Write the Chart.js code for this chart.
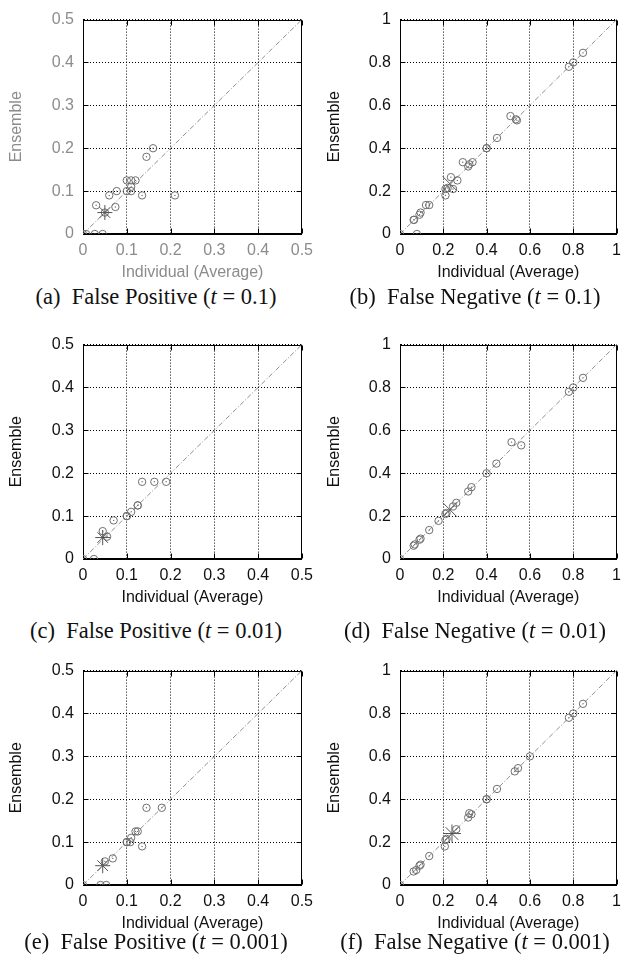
<!DOCTYPE html>
<html>
<head>
<meta charset="utf-8">
<script src="https://cdn.jsdelivr.net/npm/chart.js@4.4.1/dist/chart.umd.min.js"></script>
<style>
  html, body { margin: 0; padding: 0; background: #fff; }
  body { width: 628px; height: 969px; position: relative; overflow: hidden; }
  canvas { position: absolute; }
  .cap {
    position: absolute; width: 300px; text-align: center; white-space: nowrap;
    font-family: 'Liberation Serif', 'Times New Roman', serif; font-size: 22.5px; line-height: 24px; color: #111;
  }
</style>
</head>
<body>
<canvas id="fpA" width="320" height="283" style="left:0;top:1px"></canvas>
<canvas id="fnB" width="318" height="283" style="left:310px;top:1px"></canvas>
<canvas id="fpC" width="320" height="283" style="left:0;top:326px"></canvas>
<canvas id="fnD" width="318" height="283" style="left:310px;top:326px"></canvas>
<canvas id="fpE" width="320" height="283" style="left:0;top:652px"></canvas>
<canvas id="fnF" width="318" height="283" style="left:310px;top:652px"></canvas>

<div class="cap" style="left:6px;top:285px">(a)&nbsp; False Positive (<i>t</i> = 0.1)</div>
<div class="cap" style="left:325px;top:285px">(b)&nbsp; False Negative (<i>t</i> = 0.1)</div>
<div class="cap" style="left:6px;top:619px">(c)&nbsp; False Positive (<i>t</i> = 0.01)</div>
<div class="cap" style="left:325px;top:619px">(d)&nbsp; False Negative (<i>t</i> = 0.01)</div>
<div class="cap" style="left:6px;top:930px">(e)&nbsp; False Positive (<i>t</i> = 0.001)</div>
<div class="cap" style="left:325px;top:930px">(f)&nbsp; False Negative (<i>t</i> = 0.001)</div>

<script>
// tick labels
const fpTicks = ['0', '0.1', '0.2', '0.3', '0.4', '0.5'];
const fnTicks = ['0', '0.2', '0.4', '0.6', '0.8', '1'];

// (a) false positive, t = 0.1
const fpInd1 = [0, 0.007, 0.027, 0.045, 0.03, 0.074, 0.05, 0.06, 0.077, 0.1, 0.11, 0.11, 0.1, 0.11, 0.12, 0.135, 0.21, 0.145, 0.16];
const fpEns1 = [0, 0, 0, 0, 0.067, 0.063, 0.05, 0.09, 0.1, 0.1, 0.1, 0.11, 0.125, 0.125, 0.125, 0.09, 0.09, 0.18, 0.2];
// (c) false positive, t = 0.01
const fpInd2 = [0, 0.025, 0.045, 0.055, 0.07, 0.1, 0.1, 0.11, 0.125, 0.125, 0.135, 0.163, 0.19];
const fpEns2 = [0, 0, 0.065, 0.052, 0.09, 0.1, 0.1, 0.11, 0.125, 0.125, 0.18, 0.18, 0.18];
// (e) false positive, t = 0.001
const fpInd3 = [0, 0.04, 0.053, 0.05, 0.068, 0.1, 0.1, 0.108, 0.11, 0.12, 0.125, 0.135, 0.145, 0.18];
const fpEns3 = [0, 0, 0, 0.055, 0.062, 0.1, 0.1, 0.1, 0.11, 0.125, 0.125, 0.09, 0.18, 0.18];

// (b) false negative, t = 0.1
const fnInd1 = [0, 0.078, 0.063, 0.065, 0.09, 0.095, 0.12, 0.135, 0.21, 0.21, 0.22, 0.235, 0.245, 0.265, 0.29, 0.315, 0.32, 0.335, 0.4, 0.4, 0.448, 0.51, 0.535, 0.54, 0.78, 0.8, 0.845];
const fnEns1 = [0, 0, 0.066, 0.066, 0.09, 0.1, 0.135, 0.135, 0.18, 0.21, 0.215, 0.265, 0.21, 0.25, 0.335, 0.315, 0.325, 0.335, 0.4, 0.4, 0.448, 0.55, 0.535, 0.53, 0.78, 0.8, 0.845];
// (d) false negative, t = 0.01
const fnInd2 = [0, 0.063, 0.068, 0.09, 0.095, 0.135, 0.178, 0.21, 0.215, 0.245, 0.26, 0.315, 0.33, 0.4, 0.445, 0.515, 0.56, 0.78, 0.8, 0.845];
const fnEns2 = [0, 0.062, 0.068, 0.09, 0.095, 0.135, 0.178, 0.21, 0.215, 0.245, 0.262, 0.315, 0.335, 0.4, 0.445, 0.545, 0.53, 0.78, 0.8, 0.845];
// (f) false negative, t = 0.001
const fnInd3 = [0, 0.063, 0.075, 0.09, 0.095, 0.135, 0.207, 0.21, 0.215, 0.26, 0.315, 0.32, 0.33, 0.4, 0.4, 0.448, 0.53, 0.545, 0.6, 0.78, 0.8, 0.845];
const fnEns3 = [0, 0.063, 0.07, 0.09, 0.095, 0.135, 0.18, 0.21, 0.215, 0.26, 0.315, 0.335, 0.33, 0.4, 0.4, 0.448, 0.53, 0.545, 0.6, 0.78, 0.8, 0.845];

// averages (the big markers), one per panel
const fpAvgInd = [0.05, 0.045, 0.045];
const fpAvgEns = [0.05, 0.05, 0.045];
const fnAvgInd = [0.23, 0.23, 0.24];
const fnAvgEns = [0.235, 0.23, 0.24];

const pts = (xs, ys) => xs.map((x, i) => ({ x: x, y: ys[i] }));

// border box + inward ticks (gnuplot style)
const framePlugin = {
    id: 'frame',
    beforeDatasetsDraw(chart) {
        const { ctx, chartArea: a, scales } = chart;
        const L = Math.round(a.left) + 0.5, R = Math.round(a.right) - 0.5;
        const T = Math.round(a.top) + 0.5, B = Math.round(a.bottom) - 0.5;
        ctx.save();
        ctx.strokeStyle = '#000';
        ctx.lineWidth = 1;
        ctx.beginPath();
        scales.x.ticks.forEach(t => {
            const p = Math.round(scales.x.getPixelForValue(t.value)) + 0.5;
            ctx.moveTo(p, B); ctx.lineTo(p, B - 5);
            ctx.moveTo(p, T); ctx.lineTo(p, T + 5);
        });
        scales.y.ticks.forEach(t => {
            const p = Math.round(scales.y.getPixelForValue(t.value)) + 0.5;
            ctx.moveTo(L, p); ctx.lineTo(L + 5, p);
            ctx.moveTo(R, p); ctx.lineTo(R - 5, p);
        });
        ctx.stroke();
        ctx.strokeRect(L, T, R - L, B - T);
        ctx.restore();
    }
};

function makePanel(id, o) {
    const font = { family: "'Liberation Sans', Arial, sans-serif", size: 16 };
    new Chart(document.getElementById(id), {
        type: 'scatter',
        data: {
            datasets: [
                {
                    type: 'line',
                    data: [{ x: 0, y: 0 }, { x: o.max, y: o.max }],
                    borderColor: '#8f8f8f',
                    borderWidth: 1,
                    borderDash: [5, 2, 1, 2],
                    pointRadius: 0,
                    order: 4
                },
                {
                    data: pts(o.ind, o.ens),
                    pointStyle: 'circle',
                    pointRadius: 3.7,
                    borderColor: '#6f6f6f',
                    backgroundColor: 'rgba(0,0,0,0)',
                    borderWidth: 1,
                    order: 3
                },
                {
                    data: pts(o.ind, o.ens),
                    pointRadius: 0.7,
                    borderWidth: 0,
                    backgroundColor: '#6f6f6f',
                    order: 2
                },
                {
                    data: [{ x: o.avgX, y: o.avgY }],
                    pointStyle: o.avgStyle,
                    pointRadius: o.avgRadius,
                    borderColor: '#555',
                    borderWidth: 1,
                    order: 1
                }
            ]
        },
        options: {
            responsive: false,
            animation: false,
            layout: { padding: { left: 0, top: 12, right: o.padRight, bottom: 0 } },
            plugins: { legend: { display: false }, tooltip: { enabled: false } },
            scales: {
                x: {
                    type: 'linear',
                    min: 0, max: o.max,
                    afterFit: s => { s.height = 50; },
                    grid: { color: '#000', drawTicks: false },
                    border: { color: '#000', dash: [1, 2] },
                    ticks: {
                        stepSize: o.step, autoSkip: false, maxRotation: 0,
                        padding: 7, color: o.textColor, font: font,
                        callback: (v, i) => o.labels[i]
                    },
                    title: {
                        display: true, text: 'Individual (Average)', color: o.textColor, font: font,
                        padding: { top: 0, bottom: 2 }
                    }
                },
                y: {
                    type: 'linear',
                    min: 0, max: o.max,
                    afterFit: s => { s.width = o.yAxisW; },
                    grid: { color: '#000', drawTicks: false },
                    border: { color: '#000', dash: [1, 2] },
                    ticks: {
                        stepSize: o.step, autoSkip: false,
                        padding: 9, color: o.textColor, font: font,
                        callback: (v, i) => o.labels[i]
                    },
                    title: {
                        display: true, text: 'Ensemble', color: o.textColor, font: font,
                        padding: { top: o.titlePad, bottom: 0 }
                    }
                }
            }
        },
        plugins: [framePlugin]
    });
}

const fpBase = { max: 0.5, step: 0.1, labels: fpTicks, yAxisW: 83, padRight: 15, titlePad: 7.4, avgStyle: 'star', avgRadius: 7.5 };
const fnBase = { max: 1, step: 0.2, labels: fnTicks, yAxisW: 90, padRight: 6, titlePad: 15.4, avgStyle: 'crossRot', avgRadius: 10 };

makePanel('fpA', Object.assign({}, fpBase, { ind: fpInd1, ens: fpEns1, avgX: fpAvgInd[0], avgY: fpAvgEns[0], textColor: '#8c8c8c' }));
makePanel('fpC', Object.assign({}, fpBase, { ind: fpInd2, ens: fpEns2, avgX: fpAvgInd[1], avgY: fpAvgEns[1], textColor: '#111' }));
makePanel('fpE', Object.assign({}, fpBase, { ind: fpInd3, ens: fpEns3, avgX: fpAvgInd[2], avgY: fpAvgEns[2], textColor: '#111' }));
makePanel('fnB', Object.assign({}, fnBase, { ind: fnInd1, ens: fnEns1, avgX: fnAvgInd[0], avgY: fnAvgEns[0], textColor: '#111' }));
makePanel('fnD', Object.assign({}, fnBase, { ind: fnInd2, ens: fnEns2, avgX: fnAvgInd[1], avgY: fnAvgEns[1], textColor: '#111' }));
makePanel('fnF', Object.assign({}, fnBase, { ind: fnInd3, ens: fnEns3, avgX: fnAvgInd[2], avgY: fnAvgEns[2], textColor: '#111', avgStyle: 'star', avgRadius: 9 }));
</script>
</body>
</html>
